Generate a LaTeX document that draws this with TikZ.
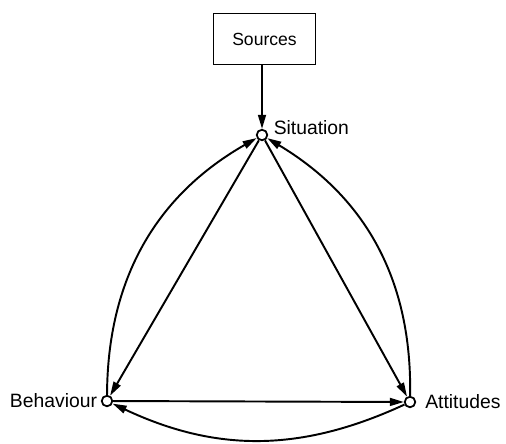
\documentclass[tikz,border=0pt]{standalone}
\usepackage{fontspec}
\setmainfont{Liberation Sans}
\usetikzlibrary{arrows.meta}
\usetikzlibrary{positioning}
\tikzset{
    point/.style={
        draw,
        circle,
        fill=white,
        minimum size=6pt,
        inner sep=0pt,
        line width=1pt
    },
    link/.style={
        draw,
        line width=1.1pt,
        -{Triangle[length=8pt, width=4.5pt]}
    },
    lbl/.style={
        font=\fontsize{11}{13}\selectfont,
        inner sep=0pt
    },
    srcbox/.style={
        draw,
        line width=0.9pt,
        minimum width=58pt,
        minimum height=29pt,
        font=\fontsize{10}{12}\selectfont
    }
}

\begin{document}
\begin{tikzpicture}[x=0.02cm, y=-0.02cm]
  \useasboundingbox (0,0) rectangle (506,443);

  % Source box and the three states
  \node[srcbox] (src) at (264.5,39) {Sources};
  \node[point] (sit) at (262,135) {};
  \node[point] (beh) at (107,401) {};
  \node[point] (att) at (410,402) {};

  % Labels beside the states
  \node[lbl, right=3pt of sit, yshift=4.5pt] (sitlbl) {Situation};
  \node[lbl, left=2pt of beh] (behlbl) {Behaviour};
  \node[lbl, right=5pt of att] (attlbl) {Attitudes};

  % Straight links
  \draw[link] (src.south -| sit) -- (sit);
  \draw[link] (sit) -- (beh);
  \draw[link] (sit) -- (att);
  \draw[link] (beh) -- (att);

  % Feedback arcs
  \draw[link] (beh) to[bend left=30] (sit);
  \draw[link] (att) to[bend right=30] (sit);
  \draw[link] (att) to[bend left=25] (beh);
\end{tikzpicture}
\end{document}
